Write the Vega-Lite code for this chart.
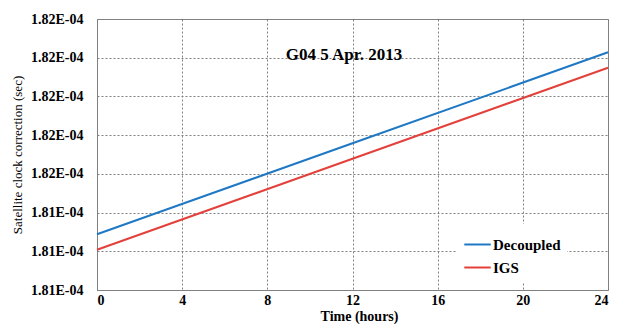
{
  "$schema": "https://vega.github.io/schema/vega-lite/v6.json",
  "width": 511,
  "height": 271,
  "autosize": "none",
  "padding": {"left": 97, "top": 19, "right": 9, "bottom": 34},
  "background": "white",
  "config": {
    "font": "Liberation Serif",
    "view": {"stroke": "#808080", "strokeWidth": 1}
  },
  "encoding": {
    "x": {
      "field": "t", "type": "quantitative",
      "scale": {"domain": [0, 24], "nice": false},
      "axis": {
        "values": [0, 4, 8, 12, 16, 20, 24],
        "title": "Time (hours)",
        "titleFont": "Liberation Serif", "titleFontSize": 14, "titleFontWeight": "bold", "titleColor": "black",
        "titlePadding": 2,
        "titleX": 262,
        "labelFont": "Liberation Serif", "labelFontSize": 14, "labelFontWeight": "bold", "labelColor": "black",
        "labelPadding": 3,
        "ticks": false,
        "domainColor": "#808080",
        "gridColor": "#808080", "gridDash": [2, 2], "gridWidth": 1
      }
    },
    "y": {
      "field": "v", "type": "quantitative",
      "scale": {"domain": [0.00018136, 0.00018171], "nice": false, "zero": false},
      "axis": {
        "values": [0.00018136, 0.00018141, 0.00018146, 0.00018151, 0.00018156, 0.00018161, 0.00018166, 0.00018171],
        "labelExpr": "format(datum.value * 10000, '.2f') + 'E-04'",
        "labelOverlap": false,
        "title": "Satellite clock correction (sec)",
        "titleFont": "Liberation Serif", "titleFontSize": 13, "titleFontWeight": "normal", "titleColor": "black",
        "titlePadding": 6,
        "labelFont": "Liberation Serif", "labelFontSize": 14, "labelFontWeight": "bold", "labelColor": "black",
        "labelPadding": 14,
        "ticks": false,
        "domainColor": "#808080",
        "gridColor": "#808080", "gridDash": [2, 2], "gridWidth": 1
      }
    }
  },
  "layer": [
    {
      "data": {
        "values": [
          {"t": 0, "v": 0.000181432, "s": "Decoupled"},
          {"t": 12, "v": 0.0001815495, "s": "Decoupled"},
          {"t": 24, "v": 0.000181667, "s": "Decoupled"},
          {"t": 0, "v": 0.000181412, "s": "IGS"},
          {"t": 12, "v": 0.0001815295, "s": "IGS"},
          {"t": 24, "v": 0.000181647, "s": "IGS"}
        ]
      },
      "mark": {"type": "line", "strokeWidth": 2},
      "encoding": {
        "color": {
          "field": "s", "type": "nominal",
          "scale": {"domain": ["Decoupled", "IGS"], "range": ["#1F78C4", "#E4403A"]},
          "legend": {
            "title": null,
            "orient": "none",
            "legendX": 360,
            "legendY": 205,
            "fillColor": "white",
            "padding": 6,
            "symbolType": "stroke",
            "symbolSize": 700,
            "symbolStrokeWidth": 2,
            "labelFont": "Liberation Serif",
            "labelFontSize": 15,
            "labelFontWeight": "bold",
            "labelColor": "black",
            "labelOffset": 1,
            "rowPadding": 0
          }
        }
      }
    },
    {
      "data": {"values": [{"t": 11.6, "v": 0.000181664, "label": "G04 5 Apr. 2013"}]},
      "mark": {"type": "text", "font": "Liberation Serif", "fontSize": 17, "fontWeight": "bold", "color": "black"},
      "encoding": {
        "text": {"field": "label", "type": "nominal"}
      }
    }
  ]
}
